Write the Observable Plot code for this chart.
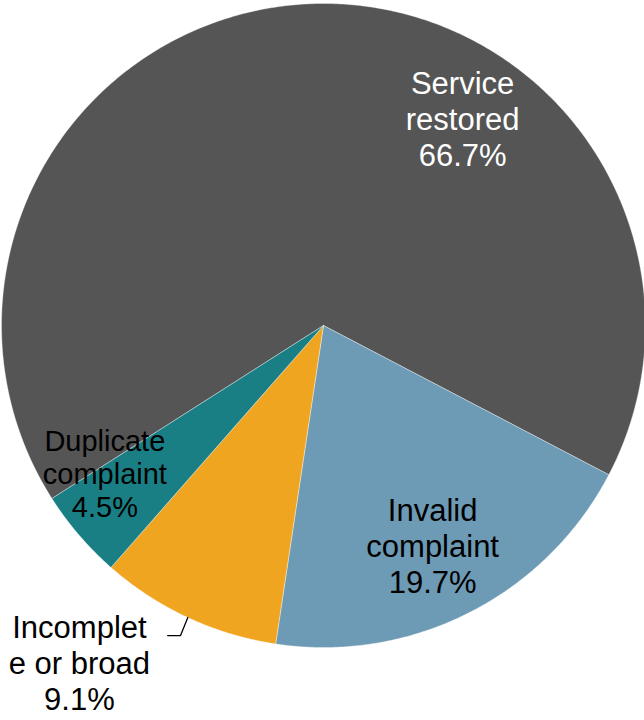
<!DOCTYPE html>
<html>
<head>
<meta charset="utf-8">
<script src="https://cdn.jsdelivr.net/npm/d3@7"></script>
<script src="https://cdn.jsdelivr.net/npm/@observablehq/plot@0.6"></script>
<style>
  html, body { margin: 0; padding: 0; background: #ffffff; }
  #chart svg { display: block; overflow: visible; }
</style>
</head>
<body>
<div id="chart"></div>
<script>
// ---- Data ----
const categories = ["Service restored", "Invalid complaint", "Incomplete or broad", "Duplicate complaint"];
const shares = [66.7, 19.7, 9.1, 4.5];
const labelTexts = ["Service\nrestored\n66.7%", "Invalid\ncomplaint\n19.7%", "Incomplet\ne or broad\n9.1%", "Duplicate\ncomplaint\n4.5%"];

// ---- Styles / layout ----
const colors = ["#555555", "#6d9ab4", "#f0a520", "#1a7f85"];
const startDeg = -122.5; // clockwise from 12 o'clock
const labelLayout = [
  {x: 0.432, y: 0.643, fill: "#ffffff", size: 31, lh: 1.17},
  {x: 0.339, y: -0.683, fill: "#000000", size: 31, lh: 1.17},
  {x: -0.758, y: -1.047, fill: "#000000", size: 31, lh: 1.15},
  {x: -0.679, y: -0.460, fill: "#000000", size: 29, lh: 1.14}
];
const leaderStart = [{x: -0.484, y: -0.963}, {x: -0.444, y: -0.963}];

// ---- Geometry ----
const total = d3.sum(shares);
let acc = startDeg;
const slices = categories.map((name, i) => {
  const a0 = acc, a1 = acc + shares[i] / total * 360;
  acc = a1;
  return {name, a0, a1, mid: (a0 + a1) / 2, i};
});
const rad = d => d * Math.PI / 180;
const pts = [];
for (const s of slices) {
  pts.push({name: s.name, x: 0, y: 0});
  const n = Math.max(2, Math.ceil(s.a1 - s.a0) * 2);
  for (let k = 0; k <= n; k++) {
    const a = rad(s.a0 + (s.a1 - s.a0) * k / n);
    pts.push({name: s.name, x: Math.sin(a), y: Math.cos(a)});
  }
  pts.push({name: s.name, x: 0, y: 0});
}
const labels = slices.map((s, i) => ({text: labelTexts[i], ...labelLayout[i]}));
const inc = slices[2];
const leader = [...leaderStart, {x: Math.sin(rad(inc.mid)), y: Math.cos(rad(inc.mid))}];

const fontFamily = "'Liberation Sans', Arial, Helvetica, sans-serif";

const chart = Plot.plot({
  width: 644,
  height: 720,
  margin: 0,
  x: {domain: [-1, 1], range: [1, 645], axis: null},
  y: {domain: [-1, 1], range: [647, 3], axis: null},
  color: {domain: categories, range: colors},
  style: {fontFamily, background: "#ffffff"},
  marks: [
    Plot.line(pts, {x: "x", y: "y", z: "name", fill: "name", stroke: "#ffffff", strokeWidth: 0.6, strokeOpacity: 0.6}),
    Plot.line(leader, {x: "x", y: "y", stroke: "#000000", strokeWidth: 1.3}),
    ...labels.map(l => Plot.text([l], {
      x: "x", y: "y", text: "text",
      fill: l.fill, fontSize: l.size, lineHeight: l.lh,
      textAnchor: "middle", lineAnchor: "middle", fontFamily
    }))
  ]
});
document.getElementById("chart").appendChild(chart);
</script>
</body>
</html>
